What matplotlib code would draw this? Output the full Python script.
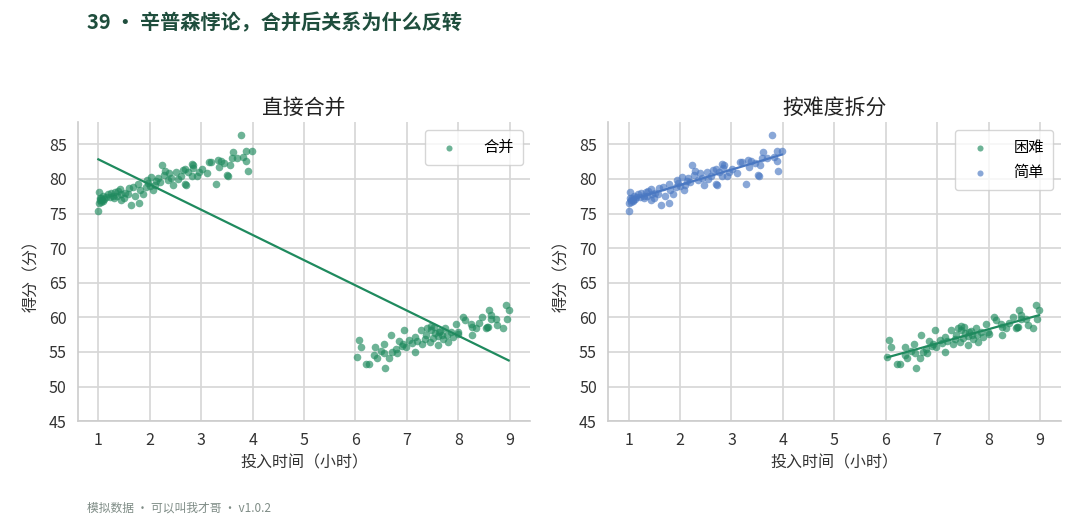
import numpy as np
import matplotlib
matplotlib.use("Agg")
import matplotlib.pyplot as plt

plt.rcParams['font.family'] = ['Noto Sans CJK SC', 'DejaVu Sans']

# easy group (简单): hours 1-4
easy_x = [1.00, 1.03, 1.05, 1.02, 1.10, 1.19, 1.25, 1.29, 1.33, 1.43, 1.45, 1.44,
          1.60, 1.63, 1.71, 1.78, 1.79, 1.81, 1.86, 1.92, 1.97, 2.03, 2.07, 2.10,
          2.13, 2.20, 2.24, 2.29, 2.35, 2.42, 2.52, 2.46, 2.55, 2.69, 2.69, 2.75,
          2.82, 2.84, 2.82, 2.91, 3.11, 3.16, 3.20, 3.29, 3.33, 3.35, 3.38, 3.53,
          3.56, 3.59, 3.62, 3.78, 3.82, 3.88, 3.91, 3.98, 3.88, 2.85, 2.71, 3.51,
          1.08, 1.15, 1.38, 1.52, 1.67, 1.95, 2.00, 2.16, 2.27, 2.38, 2.60, 2.65,
          2.95, 3.02, 3.45, 3.70,
          1.01, 1.04, 1.06, 1.09, 1.12, 1.22, 1.30, 1.36, 1.50, 1.58]
easy_y = [75.3, 77.2, 76.7, 78.1, 77.6, 77.9, 78.0, 77.6, 78.1, 78.5, 77.9, 76.9,
          78.7, 76.2, 77.6, 79.3, 76.5, 78.4, 77.9, 78.8, 79.4, 80.3, 78.4, 79.1,
          79.7, 79.6, 82.0, 81.2, 79.9, 80.2, 81.0, 79.1, 80.0, 79.3, 81.5, 81.0,
          82.1, 81.6, 80.5, 80.5, 80.8, 82.4, 82.5, 79.3, 82.7, 81.8, 82.6, 80.5,
          82.0, 83.0, 83.9, 86.4, 83.2, 84.1, 81.2, 84.1, 82.6, 82.0, 79.2, 80.6,
          77.0, 77.4, 78.3, 78.0, 78.9, 79.8, 79.0, 80.1, 80.6, 80.8, 80.4, 81.3,
          81.0, 81.4, 82.3, 83.1,
          76.6, 76.9, 77.3, 76.8, 77.1, 77.4, 77.2, 77.5, 77.3, 77.8]

# hard group (困难): hours 6-9
hard_x = [6.03, 6.06, 6.11, 6.21, 6.27, 6.38, 6.37, 6.41, 6.50, 6.55, 6.56, 6.58,
          6.66, 6.69, 6.72, 6.78, 6.81, 6.85, 6.92, 6.95, 6.98, 7.05, 7.15, 7.16,
          7.27, 7.30, 7.37, 7.40, 7.46, 7.47, 7.53, 7.60, 7.62, 7.68, 7.75, 7.78,
          7.85, 7.95, 7.99, 8.10, 8.14, 8.24, 8.27, 8.34, 8.47, 8.53, 8.60, 8.63,
          8.73, 8.76, 8.86, 8.92, 8.98, 8.95, 8.57, 8.63, 8.27, 8.56, 7.50, 7.60,
          7.70, 7.80, 7.45, 7.35, 7.90, 8.00, 7.20, 7.10, 6.90, 7.55, 7.65, 8.40]
hard_y = [54.2, 56.7, 55.7, 53.2, 53.2, 55.7, 54.5, 54.1, 55.1, 56.1, 54.8, 52.7,
          54.1, 57.4, 55.0, 55.4, 54.8, 56.6, 56.1, 58.1, 55.7, 56.7, 57.2, 55.0,
          58.2, 56.2, 57.5, 58.4, 58.8, 58.2, 58.6, 56.0, 57.9, 57.5, 58.4, 57.4,
          57.9, 59.1, 57.9, 60.1, 59.6, 59.0, 57.4, 58.4, 60.1, 58.4, 61.0, 59.8,
          59.8, 58.9, 58.4, 61.8, 61.1, 59.8, 58.6, 60.4, 58.6, 58.6, 57.0, 57.3,
          56.8, 56.4, 56.5, 56.9, 57.2, 57.6, 56.6, 56.3, 55.8, 57.8, 58.0, 59.2]

GREEN = '#1f8a5e'
BLUE = '#4a78c2'

fig = plt.figure(figsize=(10.8, 5.18), dpi=100)
ax1 = fig.add_axes([0.072, 0.187, 0.419, 0.577])
ax2 = fig.add_axes([0.563, 0.187, 0.419, 0.577])


def style_axis(ax, title):
    ax.set_xlim(0.6, 9.4)
    ax.set_ylim(45, 88.2)
    ax.set_xticks(range(1, 10))
    ax.set_yticks(range(45, 90, 5))
    ax.grid(True, color='#d6d6d6', linewidth=1.2)
    ax.set_axisbelow(True)
    for side in ['top', 'right']:
        ax.spines[side].set_visible(False)
    for side in ['left', 'bottom']:
        ax.spines[side].set_color('#cccccc')
        ax.spines[side].set_linewidth(1.2)
    ax.tick_params(length=0, labelsize=11.5, colors='#333333', pad=8)
    ax.set_title(title, fontsize=15, color='#222222', pad=6)
    ax.set_xlabel('投入时间（小时）', fontsize=11.5, color='#333333')
    ax.set_ylabel('得分（分）', fontsize=11.5, color='#333333', labelpad=6)


# left: pooled
all_x = np.array(easy_x + hard_x)
all_y = np.array(easy_y + hard_y)
ax1.scatter(all_x, all_y, s=30, color=GREEN, alpha=0.65, linewidths=0, label='合并')
k, b = np.polyfit(all_x, all_y, 1)
xs = np.array([all_x.min(), all_x.max()])
ax1.plot(xs, k * xs + b, color=GREEN, linewidth=1.6)
style_axis(ax1, '直接合并')
ax1.legend(loc='upper right', fontsize=11, markerscale=0.8, frameon=True,
           borderpad=0.6, handletextpad=1.2)

# right: split by difficulty
hx, hy = np.array(hard_x), np.array(hard_y)
ex, ey = np.array(easy_x), np.array(easy_y)
ax2.scatter(hx, hy, s=30, color=GREEN, alpha=0.65, linewidths=0, label='困难')
ax2.scatter(ex, ey, s=30, color=BLUE, alpha=0.65, linewidths=0, label='简单')
for gx, gy, c in [(hx, hy, GREEN), (ex, ey, BLUE)]:
    k, b = np.polyfit(gx, gy, 1)
    xs = np.array([gx.min(), gx.max()])
    ax2.plot(xs, k * xs + b, color=c, linewidth=1.6)
style_axis(ax2, '按难度拆分')
ax2.legend(loc='upper right', fontsize=11, markerscale=0.8, frameon=True,
           borderpad=0.6, handletextpad=1.2)

fig.text(0.081, 0.955, '39 • 辛普森悖论，合并后关系为什么反转', fontsize=14.5,
         fontweight='bold', color='#1f4e3d', va='center')
fig.text(0.081, 0.02, '模拟数据 · 可以叫我才哥 · v1.0.2', fontsize=8.5,
         color='#7f8c86', va='center')

fig.savefig('out.png', dpi=100)
